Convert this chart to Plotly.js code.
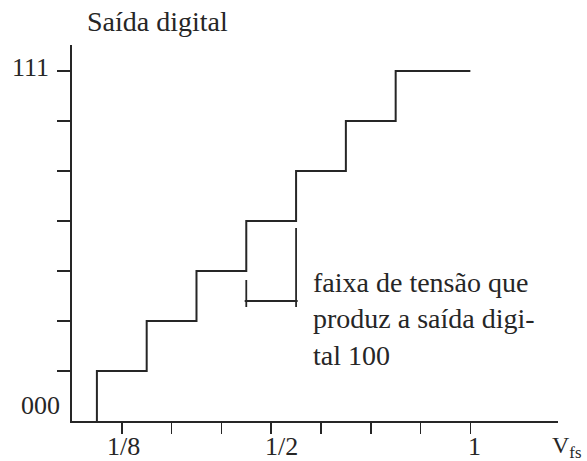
<!DOCTYPE html>
<html>
<head>
<meta charset="utf-8">
<script src="https://cdn.plot.ly/plotly-3.0.1.min.js"></script>
<style>html,body{margin:0;padding:0;background:#fff;}#chart{width:587px;height:461px;}</style>
</head>
<body>
<div id="chart"></div>
<script>
// Transfer characteristic of a 3-bit A/D converter
const inputVoltage = [0.0625, 0.0625, 0.1875, 0.3125, 0.4375, 0.5625, 0.6875, 0.8125, 1.0];
const outputCode   = [0, 1, 2, 3, 4, 5, 6, 7, 7];
const codeLabels   = ['000', '111'];
const codeLabelLevels = [0, 7];
const xTickVals    = [0.125, 0.25, 0.375, 0.5, 0.625, 0.75, 0.875, 1.0];
const xTickLabels  = ['1/8', '1/2', '1'];
const xLabelVals   = [0.125, 0.5, 1.0];
const yTickVals    = [1, 2, 3, 4, 5, 6, 7];
// bracket marking the voltage range of code 100
const bandStart = 0.4375;
const bandEnd   = 0.5625;
const bandLevel = 2.4;

const ink = '#262626';
const serif = 'Liberation Serif';

const traces = [
  {x: inputVoltage, y: outputCode, mode: 'lines', line: {shape: 'hv', color: ink, width: 2}, hoverinfo: 'skip'},
  {x: [bandStart - 0.004, bandEnd + 0.004, null, bandStart, bandStart, null, bandEnd, bandEnd],
   y: [bandLevel, bandLevel, null, 2.28, 2.82, null, 2.28, 3.86],
   mode: 'lines', line: {color: ink, width: 1.8}, hoverinfo: 'skip'}
];

const ann = [];
ann.push({xref: 'paper', yref: 'paper', x: 0.026, y: 1.062, xanchor: 'left', yanchor: 'middle',
  text: 'Saída digital', showarrow: false, font: {family: serif, size: 28, color: ink}});
codeLabels.forEach((t, i) => {
  ann.push({xref: 'paper', yref: 'y', x: i === 0 ? -0.02 : -0.044, y: codeLabelLevels[i] + (i === 0 ? 0.32 : 0.08),
    xanchor: 'right', yanchor: 'middle', text: t, showarrow: false,
    font: {family: serif, size: 26, color: ink}});
});
const xLabelShift = [0.005, 0.027, 0.011];
xTickLabels.forEach((t, i) => {
  ann.push({xref: 'x', yref: 'paper', x: xLabelVals[i] + xLabelShift[i], y: -0.069, xanchor: 'center', yanchor: 'middle',
    text: t, showarrow: false, font: {family: serif, size: 26, color: ink}});
});
ann.push({xref: 'x', yref: 'paper', x: 1.2, y: -0.07, xanchor: 'left', yanchor: 'middle',
  text: 'V<sub>fs</sub>', showarrow: false, font: {family: serif, size: 24, color: ink}});
ann.push({xref: 'x', yref: 'y', x: 0.601, y: 3.13, xanchor: 'left', yanchor: 'top', align: 'left',
  text: 'faixa de tensão que<br>produz a saída digi-<br>tal 100', showarrow: false,
  font: {family: serif, size: 28, color: ink}});

const layout = {
  width: 587, height: 461,
  margin: {l: 72, r: 29, t: 45, b: 40},
  paper_bgcolor: '#fff', plot_bgcolor: '#fff',
  showlegend: false,
  xaxis: {range: [0, 1.22], showgrid: false, zeroline: false, showline: true, linecolor: ink, linewidth: 1.8,
    tickvals: xTickVals, showticklabels: false, ticks: 'outside', ticklen: 11, tickwidth: 1.5, tickcolor: ink,
    fixedrange: true},
  yaxis: {range: [0, 7.52], showgrid: false, zeroline: false, showline: true, linecolor: ink, linewidth: 1.8,
    tickvals: yTickVals, showticklabels: false, ticks: 'outside', ticklen: 13, tickwidth: 1.5, tickcolor: ink,
    fixedrange: true},
  annotations: ann
};

Plotly.newPlot('chart', traces, layout, {displayModeBar: false, staticPlot: true});
</script>
</body>
</html>
